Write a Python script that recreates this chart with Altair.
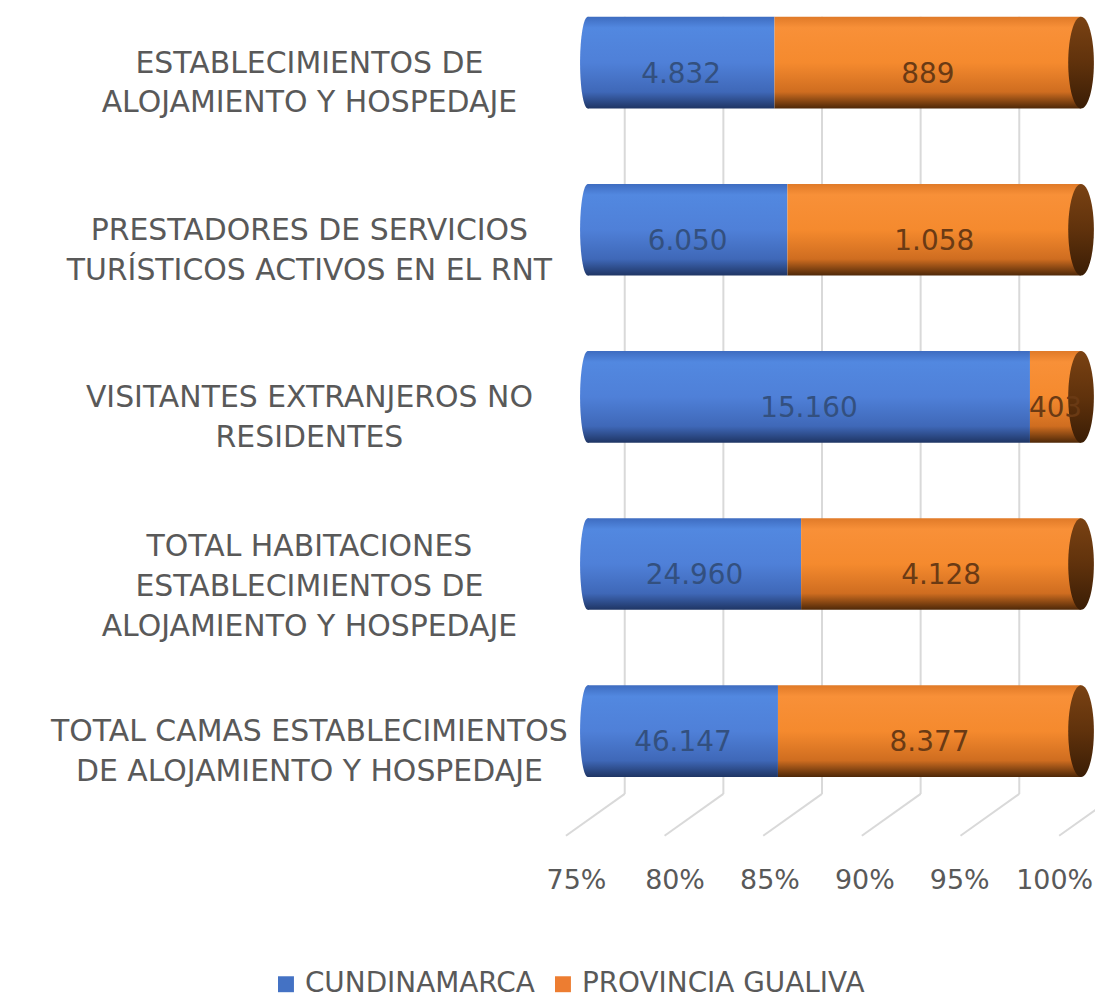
import altair as alt
import pandas as pd

# ---------------- data ----------------
categories = [
    "ESTABLECIMIENTOS DE|ALOJAMIENTO Y HOSPEDAJE",
    "PRESTADORES DE SERVICIOS|TURÍSTICOS ACTIVOS EN EL RNT",
    "VISITANTES EXTRANJEROS NO|RESIDENTES",
    "TOTAL HABITACIONES|ESTABLECIMIENTOS DE|ALOJAMIENTO Y HOSPEDAJE",
    "TOTAL CAMAS ESTABLECIMIENTOS|DE ALOJAMIENTO Y HOSPEDAJE",
]
series = ["CUNDINAMARCA", "PROVINCIA GUALIVA"]
cundinamarca = [4832, 6050, 15160, 24960, 46147]
gualiva = [889, 1058, 403, 4128, 8377]
ticks = [0.75, 0.80, 0.85, 0.90, 0.95, 1.00]

rows = []
for c, a, b in zip(categories, cundinamarca, gualiva):
    rows.append({"cat": c, "series": series[0], "value": a, "order": 0})
    rows.append({"cat": c, "series": series[1], "value": b, "order": 1})
df = pd.DataFrame(rows)
ticks_df = pd.DataFrame({"t": ticks})
legend_df = pd.DataFrame({"series": series})

# ---------------- styles ----------------
FONT = "DejaVu Sans"
GRAY = "#595959"
BLUE = "#4472C4"
ORANGE = "#ED7D31"


def grad(stops):
    return alt.LinearGradient(
        gradient="linear",
        stops=[alt.GradientStop(color=c, offset=o) for o, c in stops],
        x1=0, x2=0, y1=0, y2=1,
    )


blue_grad = grad([(0, "#3e6cc0"), (0.12, "#5288e0"), (0.5, "#4f80d8"),
                  (0.82, "#3f68b8"), (1, "#1f3564")])
orange_grad = grad([(0, "#e07a28"), (0.12, "#f89038"), (0.5, "#f58a2e"),
                    (0.82, "#cf6d20"), (1, "#4e2808")])
cap_grad = grad([(0, "#7a4213"), (0.5, "#60320c"), (1, "#3a1d05")])

ellipse_cap = "M0,-1 A0.28,1 0 1,1 0,1 A0.28,1 0 1,1 0,-1 Z"
ellipse_left = "M0,-1 A0.17,1 0 1,1 0,1 A0.17,1 0 1,1 0,-1 Z"

W, H = 495, 777
xs = alt.Scale(domain=[0.75, 1.0], nice=False, zero=False)
xaxis = alt.Axis(values=ticks, format=".0%", title=None, domain=False, ticks=False,
                 grid=False, labelFont=FONT, labelFontSize=27, labelColor=GRAY,
                 labelPadding=84, labelFlush=False, labelOverlap=False,
                 labelOffset={"expr": "-12 - max(0, datum.value - 0.8) * 75"})
ys = alt.Scale(domain=categories, paddingInner=0.4516, paddingOuter=0.0418)
yaxis = alt.Axis(title=None, domain=False, ticks=False, labelFont=FONT,
                 labelFontSize=30, labelColor=GRAY, labelAlign="center",
                 labelBaseline="middle", labelPadding=280, labelLimit=700,
                 labelLineHeight=40,
                 labelOffset={"expr": "length(split(datum.label, '|')) > 2 ? -17 : 1"},
                 labelExpr="split(datum.label, '|')")
Y = alt.Y("cat:N", sort=categories, scale=ys, axis=yaxis)

base = alt.Chart(df).transform_stack(
    stack="value", groupby=["cat"], as_=["x0", "x1"], offset="normalize",
    sort=[alt.SortField("order")],
).transform_calculate(
    x0c="max(datum.x0, 0.75)",
    mid="(max(datum.x0, 0.75) + datum.x1) / 2",
    lbl="replace(format(datum.value, ','), ',', '.')",
)
blue = base.transform_filter(alt.datum.series == series[0])
orange = base.transform_filter(alt.datum.series == series[1])

grid_v = alt.Chart(ticks_df).mark_rule(color="#d9d9d9", strokeWidth=2, xOffset=37).encode(
    x=alt.X("t:Q", scale=xs, axis=xaxis), y=alt.value(7), y2=alt.value(787))
grid_d = alt.Chart(ticks_df).mark_rule(color="#d9d9d9", strokeWidth=2, xOffset=37,
                                       x2Offset=-22).encode(
    x=alt.X("t:Q", scale=xs, axis=xaxis), x2="t:Q", y=alt.value(787), y2=alt.value(829))

bar_blue = blue.mark_bar(color=blue_grad).encode(
    x=alt.X("x0c:Q", scale=xs, axis=xaxis), x2="x1:Q", y=Y)
bar_orange = orange.mark_bar(color=orange_grad).encode(
    x=alt.X("x0c:Q", scale=xs, axis=xaxis), x2="x1:Q", y=Y)
left_cap = blue.mark_point(shape=ellipse_left, size=8464, filled=True, fill=blue_grad,
                           strokeWidth=0, opacity=1).encode(
    x=alt.X("x0c:Q", scale=xs, axis=xaxis), y=Y)
right_cap = orange.mark_point(shape=ellipse_cap, size=8464, filled=True, fill=cap_grad,
                              strokeWidth=0, opacity=1).encode(
    x=alt.X("x1:Q", scale=xs, axis=xaxis), y=Y)

txt_blue = blue.mark_text(font=FONT, fontSize=28, color="#33507f", dy=12).encode(
    x=alt.X("mid:Q", scale=xs, axis=xaxis), y=Y, text="lbl:N")
txt_orange = orange.mark_text(font=FONT, fontSize=28, color="#6a3a14", dy=12).encode(
    x=alt.X("mid:Q", scale=xs, axis=xaxis), y=Y, text="lbl:N")

legend_layer = alt.Chart(legend_df).mark_square(opacity=0).encode(
    color=alt.Color("series:N", scale=alt.Scale(domain=series, range=[BLUE, ORANGE]),
                    legend=alt.Legend(orient="none", legendX=-317, legendY=964,
                                      direction="horizontal", title=None,
                                      labelFont=FONT, labelFontSize=28,
                                      labelColor=GRAY, symbolType="square",
                                      symbolSize=256, symbolOpacity=1,
                                      symbolStrokeWidth=0, columnPadding=14,
                                      gridAlign="none",
                                      labelOffset=5, labelLimit=400)))

chart = alt.layer(
    grid_v, grid_d, bar_blue, bar_orange, left_cap, right_cap,
    txt_blue, txt_orange, legend_layer,
).properties(
    width=W, height=H,
    background="white",
    autosize=alt.AutoSizeParams(type="none"),
    padding={"left": 582, "top": 0, "right": 14, "bottom": 214},
).configure_view(stroke=None)

chart.save("out.html", embed_options={"renderer": "svg", "actions": False})
